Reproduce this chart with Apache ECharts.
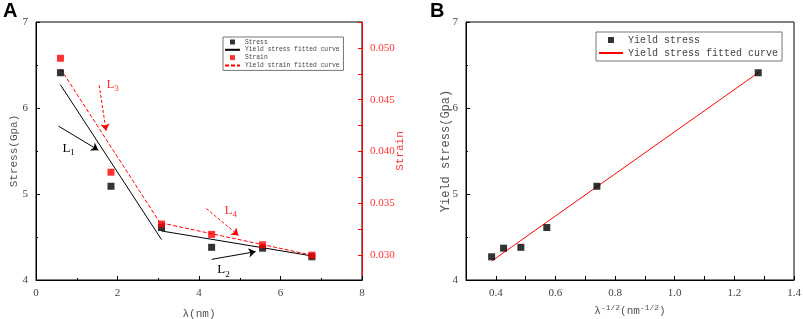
<!DOCTYPE html>
<html>
<head>
<meta charset="utf-8">
<script src="https://cdn.jsdelivr.net/npm/echarts@6/dist/echarts.min.js"></script>
<style>
html,body{margin:0;padding:0;background:#fff;}
#main{width:803px;height:319px;}
</style>
</head>
<body>
<div id="main"></div>
<script>
// ===== 数据 =====
var lambda = [0.6, 1.84, 3.08, 4.31, 5.56, 6.77];          // λ (nm)
var stress = [6.41, 5.09, 4.61, 4.38, 4.37, 4.27];         // Stress (Gpa)
var strain = [0.049, 0.038, 0.033, 0.032, 0.031, 0.030];   // Strain
var stressFit1 = [[0.6, 6.27], [3.08, 4.47]];
var stressFit2 = [[3.08, 4.57], [6.77, 4.28]];
var strainFit1 = [[0.6, 0.048], [3.08, 0.0329]];
var strainFit2 = [[3.08, 0.0331], [6.77, 0.030]];
var invSqrtLambda = [1.28, 0.739, 0.571, 0.484, 0.426, 0.386]; // λ^-1/2，与 stress 一一对应
var yieldFit = [[0.386, 4.22], [1.28, 6.41]];
var strainTicks = [0.030, 0.035, 0.040, 0.045, 0.050];
var strainMinorTicks = [0.0275, 0.030, 0.0325, 0.035, 0.0375, 0.040, 0.0425, 0.045, 0.0475, 0.050, 0.0525];
var bTicks = [0.4, 0.6, 0.8, 1.0, 1.2, 1.4];
var bMinorTicks = [0.4, 0.5, 0.6, 0.7, 0.8, 0.9, 1.0, 1.1, 1.2, 1.3, 1.4];

var serif = 'Liberation Serif';
var mono = 'Liberation Mono';
var sq = 'path://M0,0h1v1h-1z';   // 图例里的小方块

function zip(xs, ys) {
	return xs.map(function (x, i) { return [x, ys[i]]; });
}

var myChart = echarts.init(document.getElementById('main'));

function baseAxis(extra) {
	var ax = {
		type: 'value',
		nameMoveOverlap: false,
		axisLine: { show: true, lineStyle: { color: '#000', width: 1 } },
		axisTick: { show: true, inside: true, length: 4, lineStyle: { color: '#000' } },
		minorTick: { show: true, splitNumber: 2, length: 2, lineStyle: { color: '#000' } },
		splitLine: { show: false },
		axisLabel: { color: '#444', fontFamily: serif, fontSize: 11 },
		nameTextStyle: { color: '#555', fontFamily: mono, fontSize: 11 }
	};
	for (var k in extra) ax[k] = extra[k];
	return ax;
}

var labelRich = {
	b: { fontFamily: serif, fontSize: 13 },
	s: { fontFamily: serif, fontSize: 9, padding: [9, 0, 0, 0] }
};

// L1~L4 标注文字
function tag(coord, sub, color) {
	return {
		coord: coord,
		symbol: 'circle',
		symbolSize: 1,
		itemStyle: { color: 'rgba(0,0,0,0)' },
		label: {
			show: true,
			position: 'inside',
			color: color,
			formatter: '{b|L}{s|' + sub + '}',
			rich: labelRich
		}
	};
}

var option = {
	animation: false,
	textStyle: { fontFamily: serif },
	graphic: [
		{ type: 'text', left: 3, top: 1, style: { text: 'A', font: 'bold 20px "Liberation Sans"', fill: '#000' } },
		{ type: 'text', left: 430, top: 1, style: { text: 'B', font: 'bold 20px "Liberation Sans"', fill: '#000' } }
	],
	grid: [
		{ left: 36, top: 22, width: 326, height: 258, outerBoundsMode: 'none', show: true, borderColor: '#000', borderWidth: 1 },
		{ left: 466, top: 22, width: 328, height: 258, outerBoundsMode: 'none', show: true, borderColor: '#000', borderWidth: 1 }
	],
	legend: [
		{
			left: 223, top: 37,
			orient: 'vertical',
			itemWidth: 15, itemHeight: 5, itemGap: 1.8,
			padding: [2, 4, 2, 1],
			borderColor: '#777', borderWidth: 1,
			textStyle: { fontFamily: mono, fontSize: 6.3, color: '#444' },
			data: [
				{ name: 'Stress', icon: sq },
				{ name: 'Yield stress fitted curve', itemStyle: { opacity: 0 } },
				{ name: 'Strain', icon: sq },
				{ name: 'Yield strain fitted curve', itemStyle: { opacity: 0 } }
			]
		},
		{
			left: 596, top: 32,
			orient: 'vertical',
			itemWidth: 24, itemHeight: 6, itemGap: 3,
			padding: [3, 4, 3, 2],
			borderColor: '#777', borderWidth: 1,
			textStyle: { fontFamily: mono, fontSize: 10, color: '#444' },
			formatter: function (name) { return name.trim(); },
			data: [
				{ name: 'Yield stress', icon: sq },
				{ name: 'Yield stress fitted curve ', itemStyle: { opacity: 0 } }
			]
		}
	],
	xAxis: [
		baseAxis({
			gridIndex: 0, min: 0, max: 8, interval: 2,
			name: 'λ(nm)', nameLocation: 'middle', nameGap: 29
		}),
		baseAxis({
			gridIndex: 1, min: 0.3, max: 1.4,
			axisLabel: { color: '#444', fontFamily: serif, fontSize: 11, customValues: bTicks,
				formatter: function (v) { return v.toFixed(1); } },
			axisTick: { show: true, inside: true, length: 4, lineStyle: { color: '#000' }, customValues: bMinorTicks },
			minorTick: { show: false },
			name: '{n|λ}{p|-1/2}{n|(nm}{p|-1/2}{n|)}', nameLocation: 'middle', nameGap: 24,
			nameTextStyle: {
				color: '#555',
				rich: {
					n: { fontFamily: mono, fontSize: 11, color: '#555' },
					p: { fontFamily: mono, fontSize: 8, color: '#555', padding: [0, 0, 7, 0] }
				}
			}
		})
	],
	yAxis: [
		baseAxis({
			gridIndex: 0, min: 4, max: 7, interval: 1,
			name: 'Stress(Gpa)', nameLocation: 'middle', nameGap: 16
		}),
		baseAxis({
			gridIndex: 0, position: 'right', min: 0.0276, max: 0.0525,
			axisLine: { show: true, lineStyle: { color: '#ff0000', width: 1 } },
			axisTick: { show: true, inside: true, length: 4, lineStyle: { color: '#ff0000' }, customValues: strainMinorTicks },
			minorTick: { show: false },
			axisLabel: { color: '#ff3333', fontFamily: serif, fontSize: 11, customValues: strainTicks,
				formatter: function (v) { return v.toFixed(3); } },
			name: 'Strain', nameLocation: 'middle', nameGap: 33, nameRotate: 90,
			nameTextStyle: { color: '#ff3333', fontFamily: mono, fontSize: 11 }
		}),
		baseAxis({
			gridIndex: 1, min: 4, max: 7, interval: 1,
			name: 'Yield stress(Gpa)', nameLocation: 'middle', nameGap: 14,
			nameTextStyle: { color: '#555', fontFamily: mono, fontSize: 12 }
		})
	],
	series: [
		{
			name: 'Stress', type: 'scatter', xAxisIndex: 0, yAxisIndex: 0,
			symbol: 'rect', symbolSize: 7, itemStyle: { color: '#000' },
			data: zip(lambda, stress), z: 5
		},
		{
			name: 'Yield stress fitted curve', type: 'line', xAxisIndex: 0, yAxisIndex: 0,
			symbol: 'none', lineStyle: { color: '#000', width: 1 }, itemStyle: { color: '#000' },
			data: stressFit1,
			markLine: {
				silent: true, symbol: ['none', 'arrow'], symbolSize: 7,
				lineStyle: { color: '#000', width: 1, type: 'solid' },
				label: { show: false },
				data: [
					[{ coord: [0.55, 5.79] }, { coord: [1.53, 5.51] }],
					[{ coord: [4.31, 4.24] }, { coord: [5.39, 4.33] }]
				]
			},
			markPoint: {
				silent: true,
				data: [tag([0.8, 5.53], '1', '#000'), tag([4.6, 4.12], '2', '#000')]
			}
		},
		{
			name: 'Yield stress fitted curve', type: 'line', xAxisIndex: 0, yAxisIndex: 0,
			symbol: 'none', lineStyle: { color: '#000', width: 1 }, itemStyle: { color: '#000' },
			data: stressFit2
		},
		{
			name: 'Strain', type: 'scatter', xAxisIndex: 0, yAxisIndex: 1,
			symbol: 'rect', symbolSize: 7, itemStyle: { color: '#ff0000' },
			data: zip(lambda, strain), z: 6
		},
		{
			name: 'Yield strain fitted curve', type: 'line', xAxisIndex: 0, yAxisIndex: 1,
			symbol: 'none', lineStyle: { color: '#ff0000', width: 1, type: [4, 2] }, itemStyle: { color: '#ff0000' },
			data: strainFit1,
			markLine: {
				silent: true, symbol: ['none', 'arrow'], symbolSize: 7,
				lineStyle: { color: '#ff0000', width: 1, type: [3, 2] },
				label: { show: false },
				data: [
					[{ coord: [1.55, 0.0464] }, { coord: [1.72, 0.0420] }],
					[{ coord: [4.18, 0.0345] }, { coord: [4.97, 0.0319] }]
				]
			},
			markPoint: {
				silent: true,
				data: [tag([1.88, 0.0465], '3', '#ff3333'), tag([4.78, 0.0343], '4', '#ff3333')]
			}
		},
		{
			name: 'Yield strain fitted curve', type: 'line', xAxisIndex: 0, yAxisIndex: 1,
			symbol: 'none', lineStyle: { color: '#ff0000', width: 1, type: [4, 2] }, itemStyle: { color: '#ff0000' },
			data: strainFit2
		},
		{
			name: 'Yield stress', type: 'scatter', xAxisIndex: 1, yAxisIndex: 2,
			symbol: 'rect', symbolSize: 7, itemStyle: { color: '#000' },
			data: zip(invSqrtLambda, stress), z: 5
		},
		{
			name: 'Yield stress fitted curve ', type: 'line', xAxisIndex: 1, yAxisIndex: 2,
			symbol: 'none', lineStyle: { color: '#ff0000', width: 1 }, itemStyle: { color: '#ff0000' },
			data: yieldFit
		}
	]
};

myChart.setOption(option);
</script>
</body>
</html>
